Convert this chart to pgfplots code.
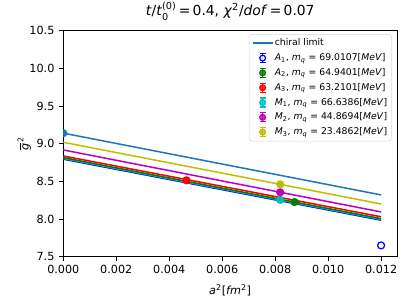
\documentclass[border=0pt]{standalone}
\usepackage{amsmath}
\usepackage{pgfplots}
\pgfplotsset{compat=1.18}
\usepackage{fontspec}
\setmainfont{DejaVu Sans}
\definecolor{czero}{HTML}{1F77B4}
\definecolor{mg}{rgb}{0,0.5,0}
\definecolor{mc}{rgb}{0,0.75,0.75}
\definecolor{mm}{rgb}{0.75,0,0.75}
\definecolor{my}{rgb}{0.75,0.75,0}
\pgfplotsset{
  ebleg/.style 2 args={legend image code/.code={
    \draw[color=#1,line width=0.9pt] (0.1in,-0.045in)--(0.1in,0.045in) (0.07in,-0.045in)--(0.13in,-0.045in) (0.07in,0.045in)--(0.13in,0.045in);
    \draw[color=#1,fill=#2,line width=0.9pt] plot[mark=*,mark size=2.1pt] coordinates{(0.1in,0in)};
  }},
  ebplot/.style 2 args={color=#1, only marks, mark=*, mark size=2.5pt, mark options={fill=#2, line width=0.9pt},
    error bars/y dir=both, error bars/y explicit,
    error bars/error bar style={line width=0.9pt, color=#1},
    error bars/error mark options={rotate=90, mark size=2pt, line width=0.9pt, color=#1}},
}
\begin{document}
\begin{tikzpicture}
\useasboundingbox (0,0) rectangle (4.07in,3.05in);
\begin{axis}[
  at={(0.633in,0.483in)}, anchor=south west,
  scale only axis, width=3.337in, height=2.26in,
  xmin=0, xmax=0.0126, ymin=7.5, ymax=10.5,
  xtick={0,0.002,0.004,0.006,0.008,0.010,0.012},
  ytick={7.5,8.0,8.5,9.0,9.5,10.0,10.5},
  xticklabel style={/pgf/number format/.cd, fixed, fixed zerofill, precision=3, assume math mode=true},
  yticklabel style={/pgf/number format/.cd, fixed, fixed zerofill, precision=1, assume math mode=true},
  scaled x ticks=false,
  tick label style={font=\fontsize{8.1}{9}\selectfont},
  tick align=outside, tick pos=left, major tick length=0.04in,
  every tick/.style={black, line width=0.6pt},
  axis line style={line width=0.6pt},
  clip marker paths=true,
  title={\textit{t}/\textit{t}$_{\text{0}}^{\text{(0)}}$\,=\,0.4, \textit{χ}$^{\text{2}}$/\textit{dof}\,=\,0.07},
  title style={at={(axis description cs:0.5,1.05)}, anchor=center, font=\fontsize{10}{12}\selectfont},
  xlabel={\textit{a}$^{\text{2}}$[\textit{fm}$^{\text{2}}$]},
  xlabel style={at={(axis description cs:0.5,-0.1505)}, anchor=center, font=\fontsize{8.1}{9}\selectfont},
  ylabel={$\overline{\text{\textit{g}}}^{\text{2}}$},
  ylabel style={at={(axis description cs:-0.117,0.5)}, anchor=center, font=\fontsize{8.1}{9}\selectfont},
  legend cell align=left,
  legend style={at={(axis description cs:0.984,0.985)}, anchor=north east,
    draw=black!15, rounded corners=2pt, fill=white, fill opacity=0.8, text opacity=1,
    font=\fontsize{6.7}{8}\selectfont,
    nodes={text height=5.3pt, text depth=1.6pt, inner sep=1pt}, row sep=1.8pt,
    inner xsep=2pt, inner ysep=2pt},
]
% chiral limit line
\addplot[color=czero, line width=1.1pt, legend image code/.code={\draw[color=czero,line width=1.2pt] (0in,0in)--(0.2in,0in);}] coordinates {(0,9.14) (0.012,8.32)};
\addlegendentry{chiral limit}
% fit lines
\addplot[color=blue, line width=1.1pt, forget plot] coordinates {(0,8.795) (0.012,7.985)};
\addplot[color=mc, line width=1.1pt, forget plot] coordinates {(0,8.805) (0.012,7.995)};
\addplot[color=mg, line width=1.1pt, forget plot] coordinates {(0,8.815) (0.012,8.005)};
\addplot[color=red, line width=1.1pt, forget plot] coordinates {(0,8.837) (0.012,8.030)};
\addplot[color=mm, line width=1.1pt, forget plot] coordinates {(0,8.917) (0.012,8.094)};
\addplot[color=my, line width=1.1pt, forget plot] coordinates {(0,9.019) (0.012,8.200)};
% data points
\addplot[ebleg={blue}{white}, ebplot={blue}{white}] coordinates {(0.012,7.65) +- (0,0.02)};
\addlegendentry{\textit{A}$_{\text{1}}$, \textit{m}$_{\text{\textit{q}}}$ = 69.0107[\textit{MeV}]}
\addplot[ebleg={mg}{mg}, ebplot={mg}{mg}] coordinates {(0.00873,8.226) +- (0,0.015)};
\addlegendentry{\textit{A}$_{\text{2}}$, \textit{m}$_{\text{\textit{q}}}$ = 64.9401[\textit{MeV}]}
\addplot[ebleg={red}{red}, ebplot={red}{red}] coordinates {(0.00465,8.514) +- (0,0.015)};
\addlegendentry{\textit{A}$_{\text{3}}$, \textit{m}$_{\text{\textit{q}}}$ = 63.2101[\textit{MeV}]}
\addplot[ebleg={mc}{mc}, ebplot={mc}{mc}] coordinates {(0.00819,8.255) +- (0,0.015)};
\addlegendentry{\textit{M}$_{\text{1}}$, \textit{m}$_{\text{\textit{q}}}$ = 66.6386[\textit{MeV}]}
\addplot[ebleg={mm}{mm}, ebplot={mm}{mm}] coordinates {(0.00819,8.355) +- (0,0.015)};
\addlegendentry{\textit{M}$_{\text{2}}$, \textit{m}$_{\text{\textit{q}}}$ = 44.8694[\textit{MeV}]}
\addplot[ebleg={my}{my}, ebplot={my}{my}] coordinates {(0.00819,8.461) +- (0,0.015)};
\addlegendentry{\textit{M}$_{\text{3}}$, \textit{m}$_{\text{\textit{q}}}$ = 23.4862[\textit{MeV}]}
% chiral limit point
\addplot[forget plot, ebplot={czero}{czero}] coordinates {(0,9.14) +- (0,0.02)};
\end{axis}
\end{tikzpicture}
\end{document}
